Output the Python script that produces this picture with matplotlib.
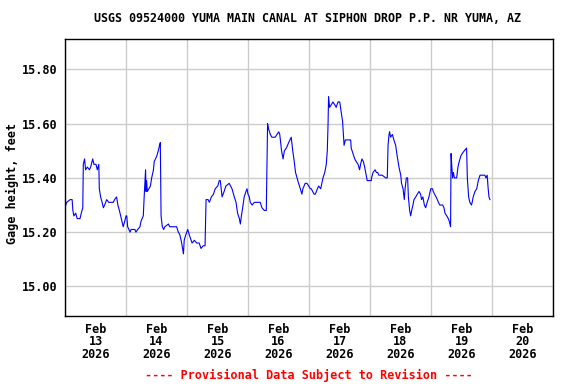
import matplotlib
matplotlib.use("Agg")
import matplotlib.pyplot as plt
import matplotlib.dates as mdates
import pandas as pd

# hours since 2026-02-13 00:00 and gage height (ft)
hours = [
    0.3, 0.7, 2.0, 2.8, 3.1, 3.5, 4.2, 4.8, 5.9, 6.4, 7.0, 7.2, 7.7, 8.1, 8.8,
    9.6, 10.1, 10.9, 11.4, 12.2, 12.7, 13.3, 13.5, 14.0, 14.6, 15.1, 15.6, 16.4,
    17.2, 19.0, 19.5, 20.3, 20.8, 21.4, 21.9, 22.4, 22.9, 23.5, 24.0,
    24.3, 24.65, 25.6, 26.0, 27.5, 27.9, 28.6, 29.5, 29.9, 30.8, 31.2, 31.7,
    31.9, 32.1, 32.4, 33.0, 33.6, 34.1, 34.8, 35.1, 36.1, 36.7, 37.2, 37.5,
    37.8, 38.3, 38.8, 39.3, 40.7, 41.2, 43.9, 44.6, 45.2, 45.9, 46.6, 46.9,
    47.5, 48.3,
    48.9, 50.0, 50.9, 51.8, 52.8, 53.5, 54.4, 55.1, 55.5, 56.3, 56.8, 57.6,
    58.4, 59.1, 60.1, 60.7, 61.1, 61.8, 62.6, 63.3, 64.6, 65.7, 66.6, 67.3,
    67.9, 68.6, 69.0, 69.4, 69.9, 70.5, 71.2, 71.6, 72.0, 72.5,
    72.9, 73.6, 74.5, 76.8, 77.5, 78.4, 79.2, 79.5, 79.7, 80.1, 80.8, 81.4,
    82.7, 83.4, 84.1, 84.5, 85.2, 85.8, 86.3, 87.1, 88.0, 89.0, 89.6, 90.2,
    90.7, 91.3, 91.9, 92.6, 93.2, 93.6, 94.5, 95.2, 95.9, 96.5,
    96.9, 98.0, 98.5, 99.3, 99.8, 100.6, 101.5, 102.2, 102.8, 103.2, 103.5,
    103.7, 104.1, 104.8, 105.4, 106.1, 106.7, 107.4, 108.1, 108.7, 109.2,
    109.8, 110.3, 111.3, 112.4, 112.6, 113.3, 114.0, 114.6, 115.3, 115.9,
    116.3, 116.8, 117.4, 117.9, 118.5, 118.9, 120.5,
    120.6, 121.2, 122.0, 122.5, 123.0, 123.5, 124.8, 126.2, 126.8, 127.1,
    127.5, 127.7, 128.1, 128.8, 129.4, 130.1, 130.7, 131.4, 132.1, 132.4,
    133.0, 133.5, 133.8, 134.3, 134.8, 135.1, 135.6, 136.0, 136.4, 136.9,
    137.3, 138.0, 138.6, 139.3, 139.9, 140.3, 140.8, 141.4, 141.9, 142.5,
    143.2, 143.9,
    144.6, 144.9, 145.4, 146.0, 146.5, 146.9, 147.5, 148.6, 149.1, 149.5,
    150.2, 150.8, 151.2, 151.7, 151.9, 152.2, 152.5, 152.8, 153.2, 154.1,
    154.6, 155.1, 155.7, 156.3, 157.1, 158.0, 158.3, 158.8, 159.3, 159.9,
    160.2, 160.6, 161.3, 162.0, 162.6, 163.3, 165.2, 165.6, 166.1, 166.5,
    166.8, 167.2,
]
gage_ft = [
    15.30, 15.31, 15.32, 15.32, 15.28, 15.26, 15.27, 15.25, 15.25, 15.27, 15.29,
    15.45, 15.47, 15.43, 15.44, 15.43, 15.44, 15.47, 15.45, 15.45, 15.43, 15.45,
    15.36, 15.33, 15.31, 15.29, 15.30, 15.32, 15.31, 15.31, 15.32, 15.33, 15.30,
    15.28, 15.26, 15.24, 15.22, 15.24, 15.26,
    15.26, 15.22, 15.20, 15.21, 15.21, 15.20, 15.21, 15.22, 15.24, 15.26, 15.34,
    15.43, 15.35, 15.39, 15.35, 15.36, 15.37, 15.40, 15.43, 15.46, 15.48, 15.50,
    15.52, 15.53, 15.26, 15.22, 15.21, 15.22, 15.23, 15.22, 15.22, 15.20, 15.19,
    15.16, 15.12, 15.17, 15.19, 15.21,
    15.19, 15.16, 15.17, 15.16, 15.16, 15.14, 15.15, 15.15, 15.32, 15.32, 15.31,
    15.33, 15.34, 15.36, 15.37, 15.39, 15.39, 15.33, 15.35, 15.37, 15.38, 15.36,
    15.33, 15.31, 15.27, 15.25, 15.23, 15.26, 15.29, 15.33, 15.35, 15.36, 15.34,
    15.33,
    15.31, 15.30, 15.31, 15.31, 15.29, 15.28, 15.28, 15.47, 15.60, 15.58, 15.56,
    15.55, 15.55, 15.56, 15.57, 15.56, 15.50, 15.47, 15.50, 15.51, 15.53, 15.55,
    15.50, 15.46, 15.42, 15.40, 15.38, 15.36, 15.34, 15.36, 15.38, 15.38, 15.37,
    15.36,
    15.36, 15.34, 15.34, 15.36, 15.37, 15.36, 15.40, 15.42, 15.45, 15.50, 15.60,
    15.70, 15.66, 15.67, 15.68, 15.67, 15.66, 15.68, 15.68, 15.64, 15.61, 15.52,
    15.54, 15.54, 15.54, 15.51, 15.49, 15.47, 15.46, 15.45, 15.43, 15.45, 15.47,
    15.46, 15.44, 15.41, 15.39, 15.39,
    15.40, 15.42, 15.43, 15.42, 15.42, 15.41, 15.41, 15.40, 15.40, 15.52, 15.56,
    15.57, 15.55, 15.56, 15.54, 15.52, 15.48, 15.44, 15.41, 15.38, 15.36, 15.32,
    15.36, 15.40, 15.40, 15.33, 15.28, 15.26, 15.28, 15.30, 15.32, 15.33, 15.34,
    15.35, 15.34, 15.32, 15.33, 15.30, 15.29, 15.31, 15.33, 15.36,
    15.36, 15.35, 15.34, 15.33, 15.32, 15.31, 15.30, 15.30, 15.29, 15.27, 15.26,
    15.25, 15.24, 15.22, 15.49, 15.44, 15.40, 15.42, 15.40, 15.40, 15.44, 15.46,
    15.48, 15.49, 15.50, 15.51, 15.40, 15.33, 15.31, 15.30, 15.31, 15.33, 15.35,
    15.36, 15.39, 15.41, 15.41, 15.40, 15.41, 15.36, 15.33, 15.32,
]
y_ticks = [15.00, 15.20, 15.40, 15.60, 15.80]

start = pd.Timestamp("2026-02-13")
times = start + pd.to_timedelta(hours, unit="h")

font = "DejaVu Sans Mono"
fs = 8.5

fig = plt.figure(figsize=(5.76, 3.84), dpi=100)
ax = fig.add_axes([65 / 576, 68 / 384, 488 / 576, 277 / 384])

ax.plot(times, gage_ft, color="#0000ff", lw=0.8)

ax.set_xlim(start, start + pd.Timedelta(days=8))
ax.set_ylim(14.891, 15.912)

# gridlines at midnight, labels at noon
ax.xaxis.set_major_locator(mdates.DayLocator())
ax.xaxis.set_major_formatter(plt.NullFormatter())
ax.xaxis.set_minor_locator(mdates.HourLocator(byhour=[12]))
ax.xaxis.set_minor_formatter(mdates.DateFormatter("Feb\n%d\n%Y"))
ax.set_yticks(y_ticks)
ax.set_yticklabels([f"{v:.2f}" for v in y_ticks])

ax.grid(True, which="major", color="#cccccc", lw=1.0)
ax.set_axisbelow(True)
ax.tick_params(which="both", length=0)
ax.tick_params(axis="x", which="minor", pad=5)
ax.tick_params(axis="y", pad=5.5)
for lab in ax.get_xticklabels(which="minor") + ax.get_yticklabels():
    lab.set_fontfamily(font)
    lab.set_fontweight("bold")
    lab.set_fontsize(fs)
    lab.set_linespacing(0.95)
for s in ax.spines.values():
    s.set_linewidth(1.0)
    s.set_color("black")

fig.text(12 / 576, 1 - 183 / 384, "Gage height, feet", rotation=90,
         ha="center", va="center", fontfamily=font, fontweight="bold",
         fontsize=fs)
fig.text(308 / 576, 1 - 19 / 384,
         "USGS 09524000 YUMA MAIN CANAL AT SIPHON DROP P.P. NR YUMA, AZ",
         ha="center", va="center", fontfamily=font, fontweight="bold",
         fontsize=8.4)
fig.text(309 / 576, 1 - 375 / 384,
         "---- Provisional Data Subject to Revision ----",
         ha="center", va="center", fontfamily=font, fontweight="bold",
         fontsize=fs, color="red")

fig.savefig("out.png", dpi=100)
